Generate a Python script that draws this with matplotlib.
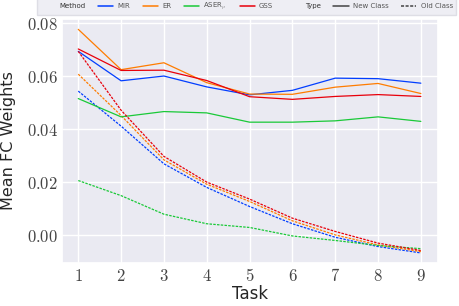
import matplotlib
matplotlib.use("Agg")
import matplotlib.pyplot as plt
import seaborn as sns
from matplotlib.lines import Line2D

sns.set_theme(style="darkgrid")
plt.rcParams['font.family'] = ['DejaVu Sans']
plt.rcParams['mathtext.fontset'] = 'cm'

tasks = [1, 2, 3, 4, 5, 6, 7, 8, 9]
methods = ["MIR", "ER", r"ASER$_\mu$", "GSS"]
colors = ["#023eff", "#ff7c00", "#1ac938", "#e8000b"]

new_mir  = [0.0692, 0.0581, 0.0599, 0.0558, 0.0528, 0.0545, 0.0591, 0.0589, 0.0572]
new_er   = [0.0775, 0.0623, 0.0649, 0.0574, 0.0531, 0.0530, 0.0557, 0.0571, 0.0533]
new_aser = [0.0514, 0.0445, 0.0465, 0.0460, 0.0425, 0.0425, 0.0430, 0.0445, 0.0428]
new_gss  = [0.0701, 0.0620, 0.0621, 0.0582, 0.0521, 0.0511, 0.0522, 0.0529, 0.0522]

old_mir  = [0.0542, 0.0410, 0.0268, 0.0179, 0.0107, 0.0042, -0.0009, -0.0044, -0.0068]
old_er   = [0.0606, 0.0450, 0.0283, 0.0191, 0.0126, 0.0053, 0.0000, -0.0038, -0.0063]
old_aser = [0.0205, 0.0148, 0.0078, 0.0042, 0.0028, -0.0004, -0.0021, -0.0040, -0.0052]
old_gss  = [0.0692, 0.0470, 0.0296, 0.0199, 0.0135, 0.0063, 0.0013, -0.0031, -0.0059]

new_vals = [new_mir, new_er, new_aser, new_gss]
old_vals = [old_mir, old_er, old_aser, old_gss]

yticks = [0.00, 0.02, 0.04, 0.06, 0.08]

fig = plt.figure(figsize=(4.6, 3.06), dpi=100)
ax = fig.add_axes([62/460, 1 - 263/306, (438-62)/460, (263-19)/306])

for nv, ov, c in zip(new_vals, old_vals, colors):
    ax.plot(tasks, nv, color=c, lw=0.9, ls='-')
    ax.plot(tasks, ov, color=c, lw=0.9, ls=(0, (2, 1)))

ax.set_xlim(0.62, 9.4)
ax.set_ylim(-0.0106, 0.0814)
ax.set_xticks(tasks)
ax.set_xticklabels([f"${t}$" for t in tasks], fontsize=12, color="#444444")
ax.set_yticks(yticks)
ax.set_yticklabels([f"${v:.2f}$" for v in yticks], fontsize=12, color="#444444")
ax.tick_params(axis='both', pad=3, length=0)
ax.set_xlabel("Task", fontsize=12, labelpad=0)
ax.set_ylabel("Mean FC Weights", fontsize=11.5, labelpad=8)

blank = Line2D([], [], color='none')
handles = [blank] + [Line2D([], [], color=c, lw=1.1) for c in colors] + \
          [blank, Line2D([], [], color='#444444', lw=1.1),
           Line2D([], [], color='#444444', lw=1.1, ls=(0, (2, 1)))]
labels = ["Method"] + methods + ["Type", "New Class", "Old Class"]
leg = fig.legend(handles, labels, loc='upper left', bbox_to_anchor=(37/460, 1.008),
                 borderaxespad=0,
                 ncol=8, fontsize=5, frameon=True, handlelength=2.2,
                 columnspacing=1.8, borderpad=0.45, handletextpad=0.6,
                 facecolor='#eaeaf2', edgecolor='#d8d8e0', fancybox=False)
for t in leg.get_texts():
    t.set_color('#555555')
leg.get_texts()[0].set_color('#333333')
leg.get_texts()[5].set_color('#333333')

fig.savefig("out.png", dpi=100)
